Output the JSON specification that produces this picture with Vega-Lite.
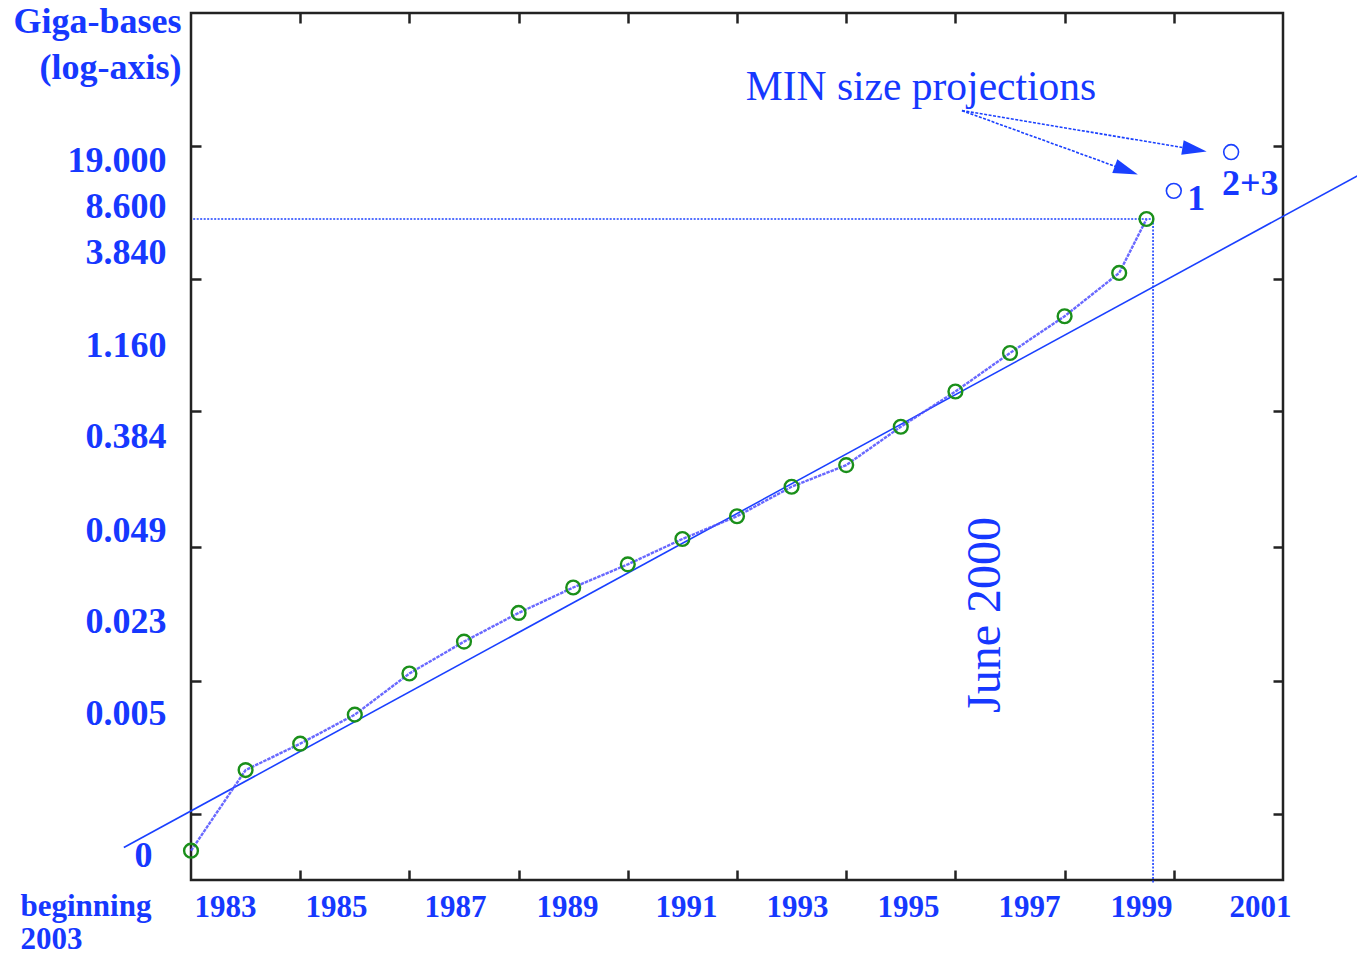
{
  "$schema": "https://vega.github.io/schema/vega-lite/v6.json",
  "width": 1092,
  "height": 867,
  "autosize": {"type": "none"},
  "padding": {"left": 191, "top": 13, "right": 74, "bottom": 74},
  "background": "white",
  "config": {
    "view": {"stroke": "#222222", "strokeWidth": 2.5},
    "font": "Liberation Serif"
  },
  "datasets": {
    "genbank": [
      {"year": 1982, "gb": 0.00068},
      {"year": 1983, "gb": 0.00227},
      {"year": 1984, "gb": 0.00337},
      {"year": 1985, "gb": 0.0052},
      {"year": 1986, "gb": 0.00962},
      {"year": 1987, "gb": 0.0155},
      {"year": 1988, "gb": 0.0238},
      {"year": 1989, "gb": 0.0348},
      {"year": 1990, "gb": 0.0492},
      {"year": 1991, "gb": 0.0719},
      {"year": 1992, "gb": 0.101},
      {"year": 1993, "gb": 0.157},
      {"year": 1994, "gb": 0.217},
      {"year": 1995, "gb": 0.385},
      {"year": 1996, "gb": 0.652},
      {"year": 1997, "gb": 1.16},
      {"year": 1998, "gb": 2.01},
      {"year": 1999, "gb": 3.84},
      {"year": 1999.5, "gb": 8.6}
    ],
    "fit": [
      {"year": 1980.77, "gb": 0.000714},
      {"year": 2003.36, "gb": 16.4}
    ],
    "guides": [
      {"year": 1982.04, "year2": 1999.62, "gb": 8.6, "gb2": 8.6},
      {"year": 1999.62, "year2": 1999.62, "gb": 8.6, "gb2": 0.000416}
    ],
    "arrows": [
      {"year": 1996.12, "gb": 43.5, "year2": 1999.13, "gb2": 17.8},
      {"year": 1996.12, "gb": 43.5, "year2": 2000.38, "gb2": 24.3}
    ],
    "head1": [{"year": 1999.13, "gb": 17.8}],
    "head2": [{"year": 2000.38, "gb": 24.3}],
    "projections": [
      {"year": 2000.0, "gb": 13.1, "scenario": "1"},
      {"year": 2001.05, "gb": 23.4, "scenario": "2+3"}
    ],
    "projlabels": [
      {"year": 2000.41, "gb": 11.6, "label": "1"},
      {"year": 2001.4, "gb": 14.5, "label": "2+3"}
    ],
    "note1": [{"year": 1995.37, "gb": 61.0, "label": "MIN size projections"}],
    "note2": [{"year": 1996.56, "gb": 0.0231, "label": "June 2000"}]
  },
  "resolve": {"axis": {"x": "independent", "y": "independent"}},
  "layer": [
    {
      "data": {"name": "fit"},
      "mark": {"type": "line", "color": "#1a40ff", "strokeWidth": 1.6},
      "encoding": {
        "x": {"field": "year", "type": "quantitative",
              "scale": {"domain": [1982, 2002], "nice": false, "zero": false},
              "axis": {"orient": "bottom", "values": [1984, 1986, 1988, 1990, 1992, 1994, 1996, 1998, 2000],
                       "labels": false, "domain": false, "grid": false, "ticks": true,
                       "tickSize": -10, "tickWidth": 2.5, "tickColor": "#222222", "title": null}},
        "y": {"field": "gb", "type": "quantitative",
              "scale": {"type": "log", "domain": [0.0004388, 187.2], "nice": false},
              "axis": {"orient": "left", "values": [25.62, 3.507, 0.4873, 0.06376, 0.008601, 0.001177],
                       "labels": false, "domain": false, "grid": false, "ticks": true,
                       "tickSize": -10, "tickWidth": 2.5, "tickColor": "#222222", "title": null}}
      }
    },
    {
      "data": {"name": "guides"},
      "mark": {"type": "rule", "color": "#1a40ff", "strokeWidth": 1.6, "strokeDash": [2, 1.5]},
      "encoding": {
        "x": {"field": "year", "type": "quantitative",
              "scale": {"domain": [1982, 2002], "nice": false, "zero": false},
              "axis": {"orient": "top", "values": [1984, 1986, 1988, 1990, 1992, 1994, 1996, 1998, 2000],
                       "labels": false, "domain": false, "grid": false, "ticks": true,
                       "tickSize": -10, "tickWidth": 2.5, "tickColor": "#222222", "title": null}},
        "x2": {"field": "year2"},
        "y": {"field": "gb", "type": "quantitative",
              "scale": {"type": "log", "domain": [0.0004388, 187.2], "nice": false},
              "axis": {"orient": "right", "values": [25.62, 3.507, 0.4873, 0.06376, 0.008601, 0.001177],
                       "labels": false, "domain": false, "grid": false, "ticks": true,
                       "tickSize": -10, "tickWidth": 2.5, "tickColor": "#222222", "title": null}},
        "y2": {"field": "gb2"}
      }
    },
    {
      "data": {"name": "genbank"},
      "mark": {"type": "line", "color": "#4f4fff", "strokeWidth": 2.4, "strokeDash": [3.5, 1], "opacity": 0.85},
      "encoding": {
        "x": {"field": "year", "type": "quantitative",
              "scale": {"domain": [1982, 2002], "nice": false, "zero": false}, "axis": null},
        "y": {"field": "gb", "type": "quantitative",
              "scale": {"type": "log", "domain": [0.0004388, 187.2], "nice": false}, "axis": null}
      }
    },
    {
      "data": {"name": "genbank"},
      "mark": {"type": "point", "shape": "circle", "filled": false, "color": "#1a8f1a", "strokeWidth": 2.4, "size": 190, "opacity": 1},
      "encoding": {
        "x": {"field": "year", "type": "quantitative",
              "scale": {"domain": [1982, 2002], "nice": false, "zero": false},
              "axis": {"orient": "bottom",
                       "values": [1982.623, 1984.656, 1986.835, 1988.886, 1991.066, 1993.099, 1995.132, 1997.348, 1999.399, 2001.579],
                       "labelExpr": "'' + (2 * round((datum.value - 1) / 2) + 1)",
                       "ticks": false, "tickSize": 0, "domain": false, "grid": false,
                       "labelFont": "Liberation Serif", "labelFontSize": 31, "labelFontWeight": "bold",
                       "labelColor": "#1638ff", "labelAlign": "center", "labelBaseline": "alphabetic",
                       "labelPadding": 36, "labelFlush": false, "labelOverlap": false, "labelBound": false,
                       "title": ["beginning", "2003"], "titleX": -171, "titleY": 35,
                       "titleAlign": "left", "titleBaseline": "alphabetic", "titleAngle": 0,
                       "titleFont": "Liberation Serif", "titleFontSize": 31, "titleFontWeight": "bold",
                       "titleColor": "#1638ff", "titleLineHeight": 33}},
        "y": {"field": "gb", "type": "quantitative",
              "scale": {"type": "log", "domain": [0.0004388, 187.2], "nice": false},
              "axis": {"orient": "left",
                       "values": [20.78, 10.44, 5.251, 1.288, 0.3304, 0.08222, 0.02078, 0.005252, 0.0006375],
                       "labelExpr": "datum.value > 15 ? '19.000' : datum.value > 8 ? '8.600' : datum.value > 3 ? '3.840' : datum.value > 1 ? '1.160' : datum.value > 0.2 ? '0.384' : datum.value > 0.05 ? '0.049' : datum.value > 0.01 ? '0.023' : datum.value > 0.003 ? '0.005' : '0'",
                       "ticks": false, "tickSize": 0, "domain": false, "grid": false,
                       "labelFont": "Liberation Serif", "labelFontSize": 36, "labelFontWeight": "bold",
                       "labelColor": "#1638ff", "labelAlign": "right", "labelBaseline": "middle",
                       "labelPadding": {"condition": {"test": "datum.value < 0.001", "value": 39}, "value": 25},
                       "labelFlush": false, "labelOverlap": false, "labelBound": false,
                       "title": ["Giga-bases", "(log-axis)"], "titleX": -10, "titleY": 19,
                       "titleAlign": "right", "titleBaseline": "alphabetic", "titleAngle": 0,
                       "titleFont": "Liberation Serif", "titleFontSize": 36, "titleFontWeight": "bold",
                       "titleColor": "#1638ff", "titleLineHeight": 46}}
      }
    },
    {
      "data": {"name": "arrows"},
      "mark": {"type": "rule", "color": "#1a40ff", "strokeWidth": 1.6, "strokeDash": [3, 1.5]},
      "encoding": {
        "x": {"field": "year", "type": "quantitative",
              "scale": {"domain": [1982, 2002], "nice": false, "zero": false}, "axis": null},
        "x2": {"field": "year2"},
        "y": {"field": "gb", "type": "quantitative",
              "scale": {"type": "log", "domain": [0.0004388, 187.2], "nice": false}, "axis": null},
        "y2": {"field": "gb2"}
      }
    },
    {
      "data": {"name": "head1"},
      "mark": {"type": "point", "shape": "M-1,-0.6L1,0L-1,0.6Z", "filled": true, "color": "#1a40ff", "size": 600, "angle": 20, "opacity": 1},
      "encoding": {
        "x": {"field": "year", "type": "quantitative",
              "scale": {"domain": [1982, 2002], "nice": false, "zero": false}, "axis": null},
        "y": {"field": "gb", "type": "quantitative",
              "scale": {"type": "log", "domain": [0.0004388, 187.2], "nice": false}, "axis": null}
      }
    },
    {
      "data": {"name": "head2"},
      "mark": {"type": "point", "shape": "M-1,-0.6L1,0L-1,0.6Z", "filled": true, "color": "#1a40ff", "size": 600, "angle": 9.5, "opacity": 1},
      "encoding": {
        "x": {"field": "year", "type": "quantitative",
              "scale": {"domain": [1982, 2002], "nice": false, "zero": false}, "axis": null},
        "y": {"field": "gb", "type": "quantitative",
              "scale": {"type": "log", "domain": [0.0004388, 187.2], "nice": false}, "axis": null}
      }
    },
    {
      "data": {"name": "projections"},
      "mark": {"type": "point", "shape": "circle", "filled": false, "color": "#1a40ff", "strokeWidth": 1.6, "size": 220, "opacity": 1},
      "encoding": {
        "x": {"field": "year", "type": "quantitative",
              "scale": {"domain": [1982, 2002], "nice": false, "zero": false}, "axis": null},
        "y": {"field": "gb", "type": "quantitative",
              "scale": {"type": "log", "domain": [0.0004388, 187.2], "nice": false}, "axis": null}
      }
    },
    {
      "data": {"name": "projlabels"},
      "mark": {"type": "text", "font": "Liberation Serif", "fontSize": 36, "fontWeight": "bold", "color": "#1638ff", "align": "center", "baseline": "middle"},
      "encoding": {
        "x": {"field": "year", "type": "quantitative",
              "scale": {"domain": [1982, 2002], "nice": false, "zero": false}, "axis": null},
        "y": {"field": "gb", "type": "quantitative",
              "scale": {"type": "log", "domain": [0.0004388, 187.2], "nice": false}, "axis": null},
        "text": {"field": "label"}
      }
    },
    {
      "data": {"name": "note1"},
      "mark": {"type": "text", "font": "Liberation Serif", "fontSize": 41.5, "color": "#1638ff", "align": "center", "baseline": "middle"},
      "encoding": {
        "x": {"field": "year", "type": "quantitative",
              "scale": {"domain": [1982, 2002], "nice": false, "zero": false}, "axis": null},
        "y": {"field": "gb", "type": "quantitative",
              "scale": {"type": "log", "domain": [0.0004388, 187.2], "nice": false}, "axis": null},
        "text": {"field": "label"}
      }
    },
    {
      "data": {"name": "note2"},
      "mark": {"type": "text", "font": "Liberation Serif", "fontSize": 48, "color": "#1638ff", "align": "center", "baseline": "middle", "angle": 270},
      "encoding": {
        "x": {"field": "year", "type": "quantitative",
              "scale": {"domain": [1982, 2002], "nice": false, "zero": false}, "axis": null},
        "y": {"field": "gb", "type": "quantitative",
              "scale": {"type": "log", "domain": [0.0004388, 187.2], "nice": false}, "axis": null},
        "text": {"field": "label"}
      }
    }
  ]
}
